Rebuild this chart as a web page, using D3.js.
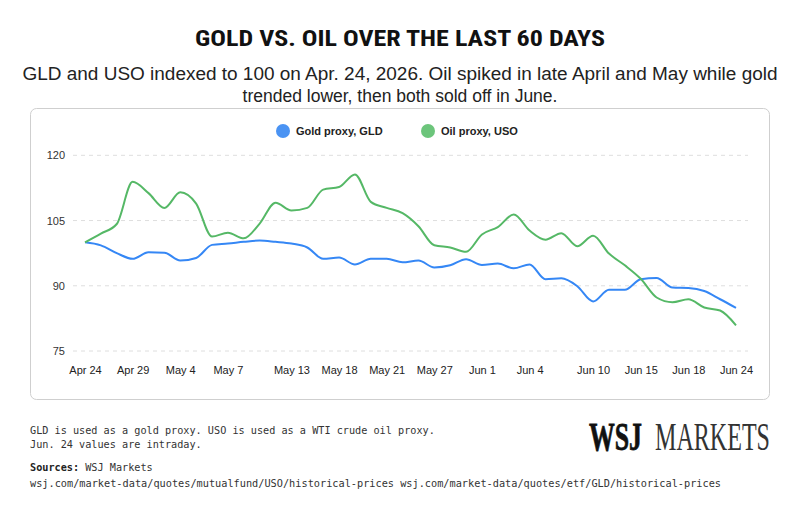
<!DOCTYPE html>
<html>
<head>
<meta charset="utf-8">
<script src="https://cdn.jsdelivr.net/npm/d3@7"></script>
<style>
  body { margin: 0; background: #fff; }
  svg { display: block; }
</style>
</head>
<body>
<div id="chart"></div>
<script>
// trading days, Apr 24 – Jun 24, 2026
const dates = ["Apr 24","Apr 27","Apr 28","Apr 29","Apr 30","May 1","May 4","May 5","May 6","May 7","May 8",
    "May 11","May 12","May 13","May 14","May 15","May 18","May 19","May 20","May 21","May 22",
    "May 26","May 27","May 28","May 29","Jun 1","Jun 2","Jun 3","Jun 4","Jun 5",
    "Jun 8","Jun 9","Jun 10","Jun 11","Jun 12","Jun 15","Jun 16","Jun 17","Jun 18",
    "Jun 22","Jun 23","Jun 24"];

const goldValues = [100.0, 99.3, 97.5, 96.2, 97.7, 97.6, 95.8, 96.4, 99.4, 99.7, 100.1,
    100.4, 100.1, 99.7, 98.8, 96.2, 96.5, 94.9, 96.2, 96.2, 95.4,
    95.8, 94.2, 94.7, 96.1, 94.8, 95.1, 94.0, 94.9, 91.5,
    91.7, 89.9, 86.4, 89.1, 89.1, 91.5, 91.8, 89.6, 89.5,
    88.8, 86.9, 84.9];

const oilValues = [100.0, 102.0, 104.2, 113.9, 111.3, 107.9, 111.5, 108.9, 101.3, 102.2, 100.9,
    104.3, 109.1, 107.3, 107.9, 112.1, 112.7, 115.6, 109.3, 107.9, 106.7,
    103.7, 99.3, 98.8, 97.8, 101.8, 103.5, 106.4, 102.7, 100.6,
    102.1, 99.1, 101.5, 97.4, 94.7, 91.6, 87.3, 86.2, 86.9,
    85.0, 84.3, 80.9];

const xTickLabels = ["Apr 24","Apr 29","May 4","May 7","May 13","May 18","May 21","May 27",
    "Jun 1","Jun 4","Jun 10","Jun 15","Jun 18","Jun 24"];
const yTickValues = [75, 90, 105, 120];

const seriesNames = ["Gold proxy, GLD", "Oil proxy, USO"];
const seriesColors = ["#3587f5", "#55b866"];
const legendColors = ["#4a93f3", "#6cc57b"];

const width = 800, height = 520;
const sans = "'Liberation Sans', Arial, Helvetica, sans-serif";
const mono = "'DejaVu Sans Mono', monospace";
const serif = "'Liberation Serif', 'DejaVu Serif', serif";

const svg = d3.select("#chart").append("svg")
    .attr("width", width)
    .attr("height", height);

// title + subtitle
svg.append("text")
    .attr("x", 400).attr("y", 46)
    .attr("text-anchor", "middle")
    .attr("textLength", 410).attr("lengthAdjust", "spacingAndGlyphs")
    .style("font-family", "'Liberation Sans Narrow', 'Roboto Condensed', Roboto, sans-serif")
    .style("font-weight", "bold").style("font-size", "22px")
    .style("fill", "#111")
    .text("GOLD VS. OIL OVER THE LAST 60 DAYS");

svg.append("text")
    .attr("x", 400).attr("y", 80)
    .attr("text-anchor", "middle")
    .attr("textLength", 755).attr("lengthAdjust", "spacingAndGlyphs")
    .style("font-family", sans).style("font-size", "17.5px")
    .style("fill", "#222")
    .text("GLD and USO indexed to 100 on Apr. 24, 2026. Oil spiked in late April and May while gold");
svg.append("text")
    .attr("x", 400).attr("y", 102)
    .attr("text-anchor", "middle")
    .style("font-family", sans).style("font-size", "17.5px")
    .style("fill", "#222")
    .text("trended lower, then both sold off in June.");

// card
svg.append("rect")
    .attr("x", 30.5).attr("y", 108.5)
    .attr("width", 739).attr("height", 291)
    .attr("rx", 6)
    .attr("fill", "#fff")
    .attr("stroke", "#cfcfcf");

// scales
const x = d3.scalePoint().domain(dates).range([85, 736]);
const y = d3.scaleLinear().domain([75, 120]).range([351, 155.3]);

// grid
svg.append("g").selectAll("line")
    .data(yTickValues)
    .enter().append("line")
    .attr("x1", 73).attr("x2", 748)
    .attr("y1", d => y(d)).attr("y2", d => y(d))
    .attr("stroke", "#dedede")
    .attr("stroke-dasharray", "4,4");

// axes
const yAxis = svg.append("g")
    .attr("transform", "translate(73,0)")
    .call(d3.axisLeft(y).tickValues(yTickValues).tickSize(0).tickPadding(8));
yAxis.select(".domain").remove();
yAxis.selectAll("text")
    .style("font-family", sans).style("font-size", "11px").style("fill", "#333");

const xAxis = svg.append("g")
    .attr("transform", "translate(0,358)")
    .call(d3.axisBottom(x).tickValues(xTickLabels).tickSize(0).tickPadding(8));
xAxis.select(".domain").remove();
xAxis.selectAll("text")
    .style("font-family", sans).style("font-size", "11px").style("fill", "#222");

// lines
const line = d3.line()
    .x((d, i) => x(dates[i]))
    .y(d => y(d))
    .curve(d3.curveMonotoneX);

[goldValues, oilValues].forEach((vals, k) => {
    svg.append("path")
        .datum(vals)
        .attr("fill", "none")
        .attr("stroke", seriesColors[k])
        .attr("stroke-width", 2)
        .attr("stroke-linejoin", "round")
        .attr("d", line);
});

// legend
const legendX = [283, 428];
seriesNames.forEach((name, i) => {
    const g = svg.append("g").attr("transform", `translate(${legendX[i]},131)`);
    g.append("circle").attr("r", 7).attr("fill", legendColors[i]);
    g.append("text")
        .attr("x", 13).attr("y", 4)
        .style("font-family", sans).style("font-weight", "bold").style("font-size", "11px")
        .style("fill", "#222")
        .text(name);
});

// footnotes
const notes = ["GLD is used as a gold proxy. USO is used as a WTI crude oil proxy.",
    "Jun. 24 values are intraday."];
notes.forEach((n, i) => {
    svg.append("text")
        .attr("x", 30).attr("y", 434 + i * 14)
        .style("font-family", mono).style("font-size", "10.2px").style("fill", "#333")
        .text(n);
});

const src = svg.append("text")
    .attr("x", 30).attr("y", 471)
    .style("font-family", mono).style("font-size", "10.2px").style("fill", "#333");
src.append("tspan").style("font-weight", "bold").style("fill", "#222").text("Sources:");
src.append("tspan").text(" WSJ Markets");

svg.append("text")
    .attr("x", 30).attr("y", 487)
    .attr("textLength", 691).attr("lengthAdjust", "spacingAndGlyphs")
    .style("font-family", mono).style("font-size", "10.2px").style("fill", "#333")
    .text("wsj.com/market-data/quotes/mutualfund/USO/historical-prices wsj.com/market-data/quotes/etf/GLD/historical-prices");

// logo: squeeze each word horizontally to its box
function logoWord(txt, x0, w, weight, fill) {
    const t = svg.append("text")
        .attr("x", 0).attr("y", 0)
        .style("font-family", serif)
        .style("font-weight", weight).style("font-size", "41px").style("fill", fill)
        .text(txt);
    const natural = t.node().getComputedTextLength();
    t.attr("transform", `translate(${x0},450) scale(${w / natural},1)`);
    return t;
}
logoWord("WSJ", 589, 53, "bold", "#111").style("stroke", "#111").style("stroke-width", 0.8);
logoWord("MARKETS", 655, 115, "normal", "#333");
</script>
</body>
</html>
